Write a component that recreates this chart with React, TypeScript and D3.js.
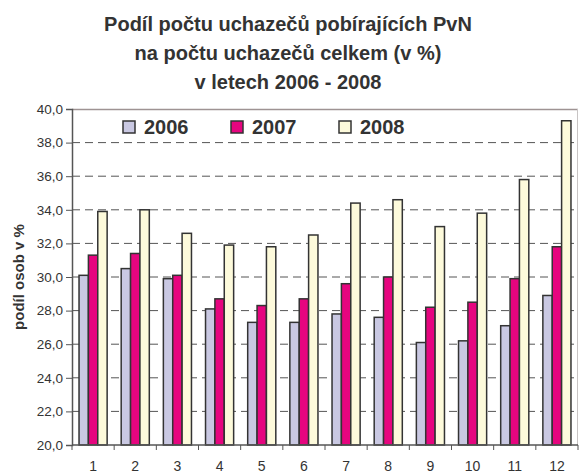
import React, { useEffect, useRef } from "react";
import * as d3 from "d3";

const months = ["1", "2", "3", "4", "5", "6", "7", "8", "9", "10", "11", "12"];
const years = ["2006", "2007", "2008"];
const v2006 = [30.1, 30.5, 29.9, 28.1, 27.3, 27.3, 27.8, 27.6, 26.1, 26.2, 27.1, 28.9];
const v2007 = [31.3, 31.4, 30.1, 28.7, 28.3, 28.7, 29.6, 30.0, 28.2, 28.5, 29.9, 31.8];
const v2008 = [33.9, 34.0, 32.6, 31.9, 31.8, 32.5, 34.4, 34.6, 33.0, 33.8, 35.8, 39.3];
const yTicks = [20, 22, 24, 26, 28, 30, 32, 34, 36, 38, 40];
const titleLines = [
  "Podíl počtu uchazečů pobírajících PvN",
  "na počtu uchazečů celkem (v %)",
  "v letech 2006 - 2008",
];
const yLabel = "podíl osob v %";

const colors = ["#c9c8e2", "#e6057f", "#fdfadb"];
const W = 579;
const H = 473;
const left = 72;
const right = 578;
const top = 109;
const bottom = 445;

const App = () => {
  const ref = useRef(null);

  useEffect(() => {
    const svg = d3.select(ref.current);
    svg.selectAll("*").remove();
    const series = [v2006, v2007, v2008];

    const x = d3.scaleBand().domain(months).range([left, right]).padding(0);
    const xs = d3
      .scaleBand()
      .domain(years)
      .range([0, x.bandwidth()])
      .paddingInner(0)
      .paddingOuter(0.75);
    const y = d3.scaleLinear().domain([20, 40]).range([bottom, top]);

    // gridlines
    svg
      .append("g")
      .selectAll("line")
      .data(yTicks.filter(t => t > 20 && t < 40))
      .join("line")
      .attr("x1", left)
      .attr("x2", right)
      .attr("y1", d => y(d))
      .attr("y2", d => y(d))
      .attr("stroke", "#555")
      .attr("stroke-width", 1)
      .attr("stroke-dasharray", "8,5");

    // plot frame top / right
    svg
      .append("line")
      .attr("x1", left)
      .attr("x2", right)
      .attr("y1", top + 0.5)
      .attr("y2", top + 0.5)
      .attr("stroke", "#9e9393")
      .attr("stroke-width", 1.5);
    svg
      .append("line")
      .attr("x1", right - 0.5)
      .attr("x2", right - 0.5)
      .attr("y1", top)
      .attr("y2", bottom)
      .attr("stroke", "#c8c4c4")
      .attr("stroke-width", 1);

    // bars
    const groups = svg
      .append("g")
      .selectAll("g")
      .data(years)
      .join("g")
      .attr("fill", (d, i) => colors[i]);
    groups
      .selectAll("rect")
      .data((d, i) => series[i].map((v, j) => ({ m: months[j], v, yr: d })))
      .join("rect")
      .attr("x", d => x(d.m) + xs(d.yr))
      .attr("width", xs.bandwidth())
      .attr("y", d => y(d.v))
      .attr("height", d => y(20) - y(d.v))
      .attr("stroke", "#333")
      .attr("stroke-width", 1.5);

    // y axis
    const yAxis = svg
      .append("g")
      .attr("transform", `translate(${left},0)`)
      .call(
        d3
          .axisLeft(y)
          .tickValues(yTicks)
          .tickSize(6)
          .tickPadding(3)
          .tickFormat(d => d3.format(".1f")(d).replace(".", ","))
      );
    yAxis.select(".domain").attr("stroke", "#555").attr("stroke-width", 1.5);
    yAxis.selectAll(".tick line").attr("stroke", "#555");
    yAxis
      .selectAll("text")
      .attr("fill", "#333")
      .attr("font-size", 13.5)
      .attr("font-family", "Liberation Sans, Arial, sans-serif");

    // x axis
    const xTickScale = d3.scaleLinear().domain([0, months.length]).range([left, right]);
    const xAxis = svg.append("g").attr("transform", `translate(0,${bottom})`);
    xAxis
      .append("line")
      .attr("x1", left)
      .attr("x2", right)
      .attr("stroke", "#555")
      .attr("stroke-width", 1.5);
    xAxis
      .selectAll("line.tk")
      .data(d3.range(months.length + 1))
      .join("line")
      .attr("class", "tk")
      .attr("x1", d => xTickScale(d))
      .attr("x2", d => xTickScale(d))
      .attr("y1", 0)
      .attr("y2", 5)
      .attr("stroke", "#555");
    xAxis
      .selectAll("text")
      .data(months)
      .join("text")
      .attr("x", d => x(d) + x.bandwidth() / 2)
      .attr("y", 26)
      .attr("text-anchor", "middle")
      .attr("fill", "#333")
      .attr("font-size", 14)
      .attr("font-family", "Liberation Sans, Arial, sans-serif")
      .text(d => d);

    // y label
    svg
      .append("text")
      .attr("transform", `translate(24,${(top + bottom) / 2}) rotate(-90)`)
      .attr("text-anchor", "middle")
      .attr("font-weight", "bold")
      .attr("font-size", 15)
      .attr("fill", "#333")
      .attr("font-family", "Liberation Sans, Arial, sans-serif")
      .text(yLabel);

    // title
    svg
      .append("g")
      .selectAll("text")
      .data(titleLines)
      .join("text")
      .attr("x", 288)
      .attr("y", (d, i) => 30.5 + i * 29)
      .attr("text-anchor", "middle")
      .attr("font-weight", "bold")
      .attr("font-size", 20)
      .attr("fill", "#333")
      .attr("font-family", "Liberation Sans, Arial, sans-serif")
      .text(d => d);

    // legend
    const legend = svg
      .append("g")
      .selectAll("g")
      .data(years)
      .join("g")
      .attr("transform", (d, i) => `translate(${123 + i * 108},121)`);
    legend
      .append("rect")
      .attr("width", 12)
      .attr("height", 12)
      .attr("fill", (d, i) => colors[i])
      .attr("stroke", "#333")
      .attr("stroke-width", 1.5);
    legend
      .append("text")
      .attr("x", 21)
      .attr("y", 13)
      .attr("font-weight", "bold")
      .attr("font-size", 20)
      .attr("fill", "#333")
      .attr("font-family", "Liberation Sans, Arial, sans-serif")
      .text(d => d);
  }, []);

  return (
    <svg
      ref={ref}
      width={W}
      height={H}
      style={{ position: "absolute", left: 0, top: 0, background: "#fff" }}
    />
  );
};

export default App;
